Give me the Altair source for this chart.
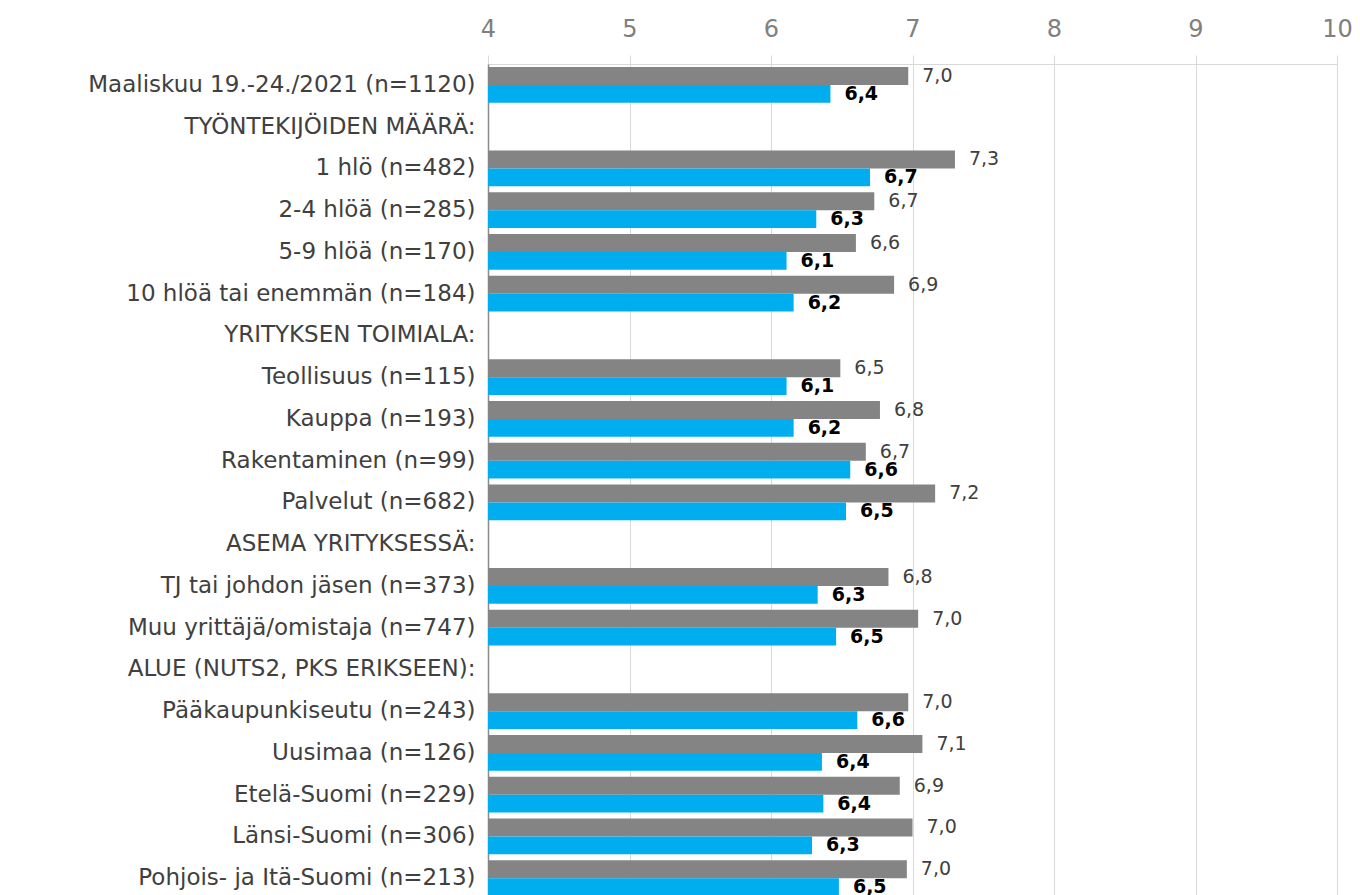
import altair as alt
import pandas as pd

categories = [
    "Maaliskuu 19.-24./2021 (n=1120)",
    "TYÖNTEKIJÖIDEN MÄÄRÄ:",
    "1 hlö (n=482)",
    "2-4 hlöä (n=285)",
    "5-9 hlöä (n=170)",
    "10 hlöä tai enemmän (n=184)",
    "YRITYKSEN TOIMIALA:",
    "Teollisuus (n=115)",
    "Kauppa (n=193)",
    "Rakentaminen (n=99)",
    "Palvelut (n=682)",
    "ASEMA YRITYKSESSÄ:",
    "TJ tai johdon jäsen (n=373)",
    "Muu yrittäjä/omistaja (n=747)",
    "ALUE (NUTS2, PKS ERIKSEEN):",
    "Pääkaupunkiseutu (n=243)",
    "Uusimaa (n=126)",
    "Etelä-Suomi (n=229)",
    "Länsi-Suomi (n=306)",
    "Pohjois- ja Itä-Suomi (n=213)",
]

gray_values = [6.97, None, 7.30, 6.73, 6.60, 6.87, None, 6.49, 6.77, 6.67, 7.16, None,
               6.83, 7.04, None, 6.97, 7.07, 6.91, 7.00, 6.96]
blue_values = [6.42, None, 6.70, 6.32, 6.11, 6.16, None, 6.11, 6.16, 6.56, 6.53, None,
               6.33, 6.46, None, 6.61, 6.36, 6.37, 6.29, 6.48]
gray_labels = ["7,0", "", "7,3", "6,7", "6,6", "6,9", "", "6,5", "6,8", "6,7", "7,2", "",
               "6,8", "7,0", "", "7,0", "7,1", "6,9", "7,0", "7,0"]
blue_labels = ["6,4", "", "6,7", "6,3", "6,1", "6,2", "", "6,1", "6,2", "6,6", "6,5", "",
               "6,3", "6,5", "", "6,6", "6,4", "6,4", "6,3", "6,5"]

x_ticks = [4, 5, 6, 7, 8, 9, 10]

rows = []
for c, gv, bv, gl, bl in zip(categories, gray_values, blue_values, gray_labels, blue_labels):
    if gv is not None:
        rows.append({"category": c, "series": "s1", "value": gv, "label": gl})
    if bv is not None:
        rows.append({"category": c, "series": "s2", "value": bv, "label": bl})
df = pd.DataFrame(rows)

FONT = "DejaVu Sans"

y_enc = alt.Y(
    "category:N",
    scale=alt.Scale(domain=categories, paddingInner=0.14, paddingOuter=0.07),
    axis=alt.Axis(
        title=None, ticks=False, domainColor="#8c8c8c", domainWidth=1.5,
        labelFontSize=23, labelColor="#404040", labelFont=FONT,
        labelPadding=13, labelLimit=0, grid=False,
    ),
)
yoff = alt.YOffset("series:N", scale=alt.Scale(domain=["s1", "s2"]))
x_enc = alt.X(
    "value:Q",
    scale=alt.Scale(domain=[4, 10], nice=False, zero=False),
    axis=alt.Axis(
        orient="top", values=x_ticks, format="d", title=None, grid=True,
        gridColor="#d9d9d9", domainColor="#d9d9d9", tickColor="#d9d9d9",
        tickSize=9, labelFontSize=24, labelColor="#808080", labelFont=FONT,
        labelPadding=14, labelFlush=False,
    ),
)

base = alt.Chart(df)

bars = base.mark_bar(clip=True).encode(
    x=x_enc,
    y=y_enc,
    yOffset=yoff,
    color=alt.Color("series:N", scale=alt.Scale(domain=["s1", "s2"], range=["#848484", "#00ADEF"]), legend=None),
)

gray_text = base.transform_filter(alt.datum.series == "s1").mark_text(
    align="left", baseline="middle", dx=14, fontSize=19, font=FONT, color="#404040"
).encode(x="value:Q", y="category:N", yOffset=yoff, text="label:N")

blue_text = base.transform_filter(alt.datum.series == "s2").mark_text(
    align="left", baseline="middle", dx=14, fontSize=19, font=FONT, color="#000000", fontWeight="bold"
).encode(x="value:Q", y="category:N", yOffset=yoff, text="label:N")

chart = alt.layer(bars, gray_text, blue_text).properties(
    width=849,
    height=835,
    autosize=alt.AutoSizeParams(type="none"),
    padding={"left": 480, "top": 56, "right": 15, "bottom": 0},
    background="white",
).configure_view(stroke=None)

chart.save("out.html", embed_options={"renderer": "svg", "actions": False})
